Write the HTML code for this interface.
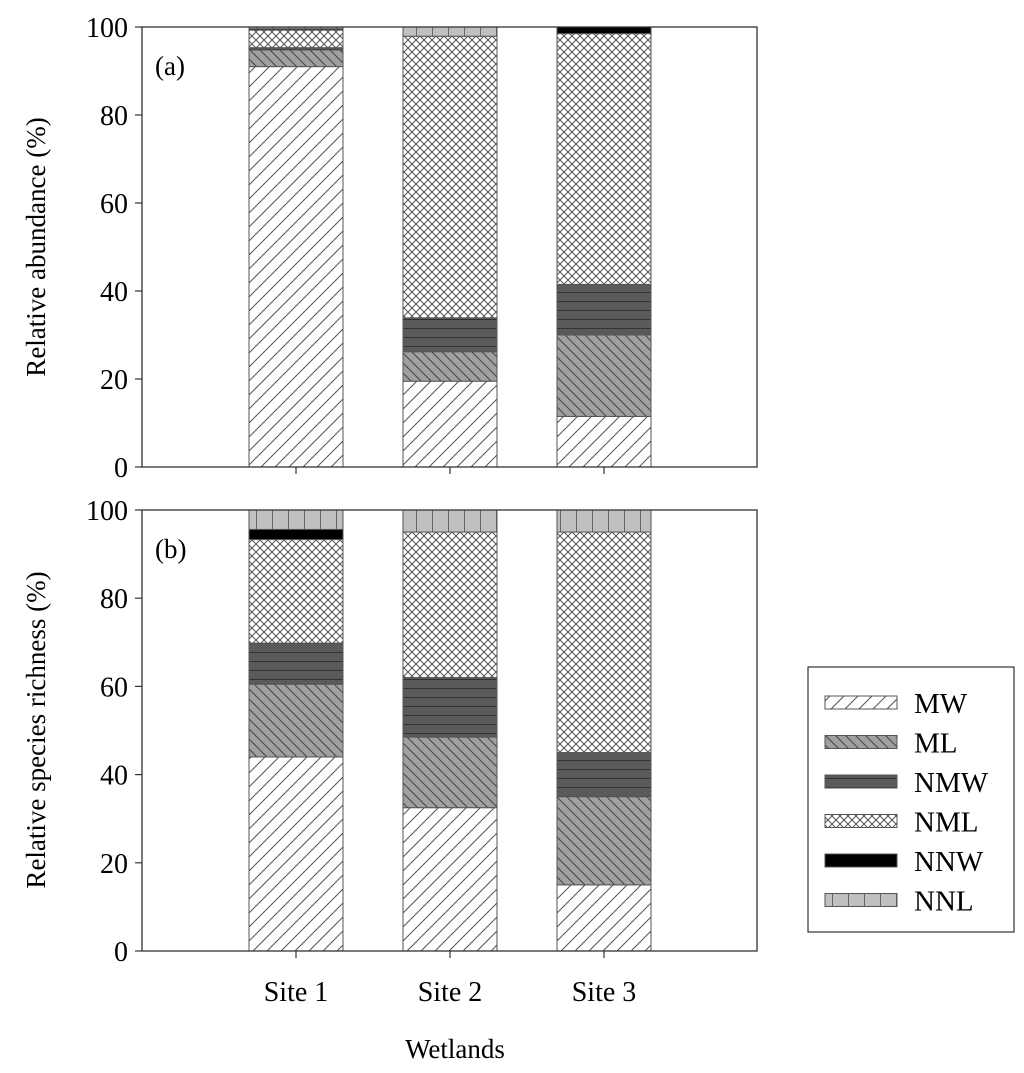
<!DOCTYPE html>
<html><head><meta charset="utf-8"><style>body{margin:0;background:#fff}svg{display:block}text{font-family:"Liberation Serif",serif;fill:#000}</style></head>
<body>
<svg id="c" width="1024" height="1073">
<defs>
<pattern id="pMW" width="14" height="14" patternUnits="userSpaceOnUse"><rect width="14" height="14" fill="#fff"/><path d="M-2,16 L16,-2 M-2,2 L2,-2 M12,16 L16,12" stroke="#555" stroke-width="1"/></pattern>
<pattern id="pML" width="10" height="10" patternUnits="userSpaceOnUse"><rect width="10" height="10" fill="#a0a0a0"/><path d="M-2,-2 L12,12 M-2,8 L2,12 M8,-2 L12,2" stroke="#444" stroke-width="1"/></pattern>
<pattern id="pNMW" width="10" height="9" patternUnits="userSpaceOnUse"><rect width="10" height="9" fill="#5a5a5a"/><path d="M0,4.5 L10,4.5" stroke="#333" stroke-width="1"/></pattern>
<pattern id="pNML" width="8" height="8" patternUnits="userSpaceOnUse"><rect width="8" height="8" fill="#fff"/><path d="M0,0 L8,8 M8,0 L0,8" stroke="#555" stroke-width="1"/></pattern>
<pattern id="pNNW" width="8" height="8" patternUnits="userSpaceOnUse"><rect width="8" height="8" fill="#000"/></pattern>
<pattern id="pNNL" width="16" height="8" patternUnits="userSpaceOnUse"><rect width="16" height="8" fill="#c0c0c0"/><path d="M0.5,0 L0.5,8" stroke="#666" stroke-width="1"/></pattern>
</defs>
<g id="plots"></g>
<text x="455" y="1058" font-size="27" text-anchor="middle">Wetlands</text>
<text transform="translate(45,247) rotate(-90)" font-size="27" text-anchor="middle">Relative abundance (%)</text>
<text transform="translate(45,730) rotate(-90)" font-size="27" text-anchor="middle">Relative species richness (%)</text>
<g id="legend"><rect x="808" y="667" width="206" height="265" fill="#fff" stroke="#333" stroke-width="1.2"/></g>
</svg>
<script>
const categories = ["Site 1","Site 2","Site 3"];
const series = ["MW","ML","NMW","NML","NNW","NNL"];
const abundanceMW  = [91, 19.5, 11.5];
const abundanceML  = [3.8, 6.7, 18.5];
const abundanceNMW = [0.5, 7.7, 11.5];
const abundanceNML = [4, 64, 57];
const abundanceNNW = [0.3, 0, 1.5];
const abundanceNNL = [0.4, 2.1, 0];
const richnessMW  = [44, 32.5, 15];
const richnessML  = [16.5, 16, 20];
const richnessNMW = [9.3, 13.5, 10];
const richnessNML = [23.5, 33, 50];
const richnessNNW = [2.3, 0, 0];
const richnessNNL = [4.4, 5, 5];
const yTicks = [0,20,40,60,80,100];
const NS="http://www.w3.org/2000/svg";
const svg=document.getElementById('plots');
function mk(t,a,p){const e=document.createElementNS(NS,t);for(const k in a)e.setAttribute(k,a[k]);(p||svg).appendChild(e);return e;}
const X0=142,X1=757,barW=94;
const xC=i=>296+i*154;
function panel(top,bottom,data,label,key){
  const y=v=>bottom-(v/100)*(bottom-top);
  const g=mk('g',{});
  
  
  categories.forEach((c,i)=>{
    let cum=0;
    series.forEach((s,j)=>{
      const v=data[j][i]; if(v<=0)return;
      const r=mk('rect',{x:xC(i)-barW/2,y:y(cum+v),width:barW,height:y(cum)-y(cum+v),fill:'url(#p'+s+')',stroke:'#555','stroke-width':1},g);
      
      
      cum+=v;
    });
    mk('line',{x1:xC(i),x2:xC(i),y1:bottom,y2:bottom+7,stroke:'#333','stroke-width':1.2},g);
  });
  mk('rect',{x:X0,y:top,width:X1-X0,height:bottom-top,fill:'none',stroke:'#333','stroke-width':1.3},g);
  yTicks.forEach(t=>{
    mk('line',{x1:X0-7,x2:X0,y1:y(t),y2:y(t),stroke:'#333','stroke-width':1.2},g);
    const tx=mk('text',{x:X0-14,y:y(t)+10,'font-size':28,'text-anchor':'end'},g);tx.textContent=t;
    
    
  });
  const pl=mk('text',{x:155,y:top+48,'font-size':27},g);pl.textContent=label;
  
  
}
panel(27,467,[abundanceMW,abundanceML,abundanceNMW,abundanceNML,abundanceNNW,abundanceNNL],'(a)','a');
panel(510,951,[richnessMW,richnessML,richnessNMW,richnessNML,richnessNNW,richnessNNL],'(b)','b');
categories.forEach((c,i)=>{
  const t=mk('text',{x:xC(i),y:1001,'font-size':28,'text-anchor':'middle'});t.textContent=c;
  
  
});
const lg=document.getElementById('legend');
series.forEach((s,j)=>{
  const yy=696+j*39.5;
  const r=mk('rect',{x:825,y:yy,width:72,height:13,fill:'url(#p'+s+')',stroke:'#555','stroke-width':1},lg);
  
  
  const t=mk('text',{x:914,y:yy+17,'font-size':29},lg);t.textContent=s;
  
  
});
</script>
</body></html>
